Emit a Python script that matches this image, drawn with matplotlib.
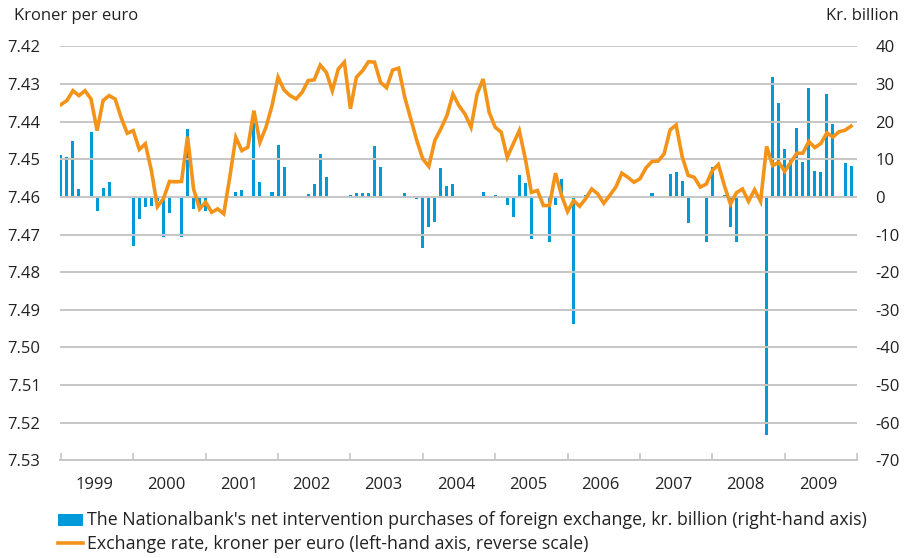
import matplotlib

matplotlib.use("Agg")
import matplotlib.pyplot as plt
from matplotlib.lines import Line2D
from matplotlib.patches import Rectangle

# monthly data, Jan 1999 - Dec 2009
years = ["1999", "2000", "2001", "2002", "2003", "2004", "2005", "2006", "2007", "2008", "2009"]

intervention = [
    11.0, 10.5, 14.8, 2.0, 0.0, 17.3, -3.8, 2.4, 3.9, 0.0, 0.0, 0.0,
    -13.1, -6.0, -2.7, -2.4, -1.0, -10.6, -4.2, 0.0, -10.6, 17.9, -3.3, -2.2,
    -3.8, 0.0, 0.0, 0.0, 0.0, 1.3, 1.7, 0.0, 20.8, 3.9, 0.0, 1.3,
    13.9, 7.9, 0.0, 0.0, 0.0, 0.7, 3.5, 11.5, 5.2, 0.0, 0.0, 0.0,
    0.6, 1.1, 1.1, 1.1, 13.5, 8.0, 0.0, 0.0, 0.0, 0.9, 0.0, -0.6,
    -13.5, -8.0, -6.6, 7.8, 3.0, 3.5, 0.0, 0.0, 0.0, 0.0, 1.2, 0.0,
    0.6, -0.4, -2.2, -5.3, 5.9, 3.8, -11.2, 0.0, 0.0, -11.9, -2.1, 4.7,
    0.0, -33.8, 0.0, 0.5, 0.0, 0.0, 0.0, 0.0, 0.0, 0.0, 0.0, 0.0,
    0.0, 0.0, 1.1, 0.0, 0.0, 6.2, 6.6, 4.2, -6.9, 0.0, 0.0, -12.1,
    8.0, 0.0, 0.6, -8.0, -11.9, 0.0, 0.0, 0.0, 0.0, -63.3, 31.9, 25.0,
    12.6, 10.4, 18.4, 9.3, 28.9, 6.9, 6.7, 27.3, 19.4, 0.0, 9.0, 8.2,
]

rate = [
    7.4355, 7.4344, 7.4318, 7.4331, 7.4318, 7.4340, 7.4424, 7.4344, 7.4331, 7.4340, 7.4390, 7.4431,
    7.4424, 7.4474, 7.4459, 7.4530, 7.4626, 7.4605, 7.4559, 7.4560, 7.4559, 7.4440, 7.4579, 7.4632,
    7.4614, 7.4641, 7.4632, 7.4645, 7.4548, 7.4442, 7.4477, 7.4468, 7.4371, 7.4455, 7.4415, 7.4358,
    7.4282, 7.4316, 7.4331, 7.4340, 7.4322, 7.4291, 7.4289, 7.4250, 7.4269, 7.4318, 7.4260, 7.4242,
    7.4366, 7.4282, 7.4265, 7.4241, 7.4242, 7.4296, 7.4310, 7.4263, 7.4258, 7.4335, 7.4393, 7.4450,
    7.4499, 7.4519, 7.4450, 7.4419, 7.4384, 7.4327, 7.4358, 7.4380, 7.4415, 7.4327, 7.4287, 7.4375,
    7.4415, 7.4428, 7.4495, 7.4459, 7.4424, 7.4499, 7.4588, 7.4583, 7.4623, 7.4623, 7.4537, 7.4596,
    7.4639, 7.4610, 7.4625, 7.4605, 7.4579, 7.4592, 7.4617, 7.4596, 7.4574, 7.4537, 7.4548, 7.4561,
    7.4552, 7.4523, 7.4506, 7.4505, 7.4486, 7.4422, 7.4409, 7.4493, 7.4543, 7.4548, 7.4574, 7.4566,
    7.4530, 7.4514, 7.4570, 7.4619, 7.4589, 7.4579, 7.4612, 7.4581, 7.4612, 7.4466, 7.4517, 7.4508,
    7.4532, 7.4508, 7.4484, 7.4484, 7.4453, 7.4469, 7.4458, 7.4430, 7.4441, 7.4427, 7.4423, 7.4412,
]

left_ticks = [7.42, 7.43, 7.44, 7.45, 7.46, 7.47, 7.48, 7.49, 7.50, 7.51, 7.52, 7.53]
right_ticks = [40, 30, 20, 10, 0, -10, -20, -30, -40, -50, -60, -70]

legend_labels = [
    "The Nationalbank's net intervention purchases of foreign exchange, kr. billion (right-hand axis)",
    "Exchange rate, kroner per euro (left-hand axis, reverse scale)",
]

BLUE = "#009ad8"
ORANGE = "#f39319"
GRID = "#c6c6c6"
TXT = "#222222"

plt.rcParams["font.family"] = ["Open Sans", "DejaVu Sans"]
plt.rcParams["axes.unicode_minus"] = False

W, H = 906, 558
fig = plt.figure(figsize=(W / 100, H / 100), dpi=100)
ax = fig.add_axes([0.0662, 0.175, 0.8798, 0.742])
ax2 = ax.twinx()

months = list(range(len(rate)))

# bars on the right-hand axis, drawn first
ax2.bar(months, intervention, width=0.5, color=BLUE, zorder=2)
ax2.set_ylim(-70, 40)
ax2.set_yticks(right_ticks)
ax2.set_yticklabels([str(t) for t in right_ticks])

ax.set_ylim(7.53, 7.42)
ax.set_yticks(left_ticks)
ax.set_yticklabels([f"{t:.2f}" for t in left_ticks])
for t in left_ticks[:-1]:
    ax.axhline(t, color=GRID, lw=1.4, zorder=0)

# line on top of the bars
ax.set_zorder(ax2.get_zorder() + 1)
ax.patch.set_visible(False)
ax.plot(months, rate, color=ORANGE, lw=2.6, solid_joinstyle="miter", zorder=3)

ax.set_xlim(-0.15, 131.7)
ax.set_xticks([12 * k for k in range(12)], minor=True)
ax.set_xticks([12 * k + 5.5 for k in range(11)])
ax.set_xticklabels(years)
ax.tick_params(axis="x", which="major", length=0, pad=12, labelsize=12, colors=TXT)
ax.tick_params(axis="x", which="minor", direction="in", length=5, width=1.2, color=GRID)
ax.tick_params(axis="y", length=0, pad=14, labelsize=12, colors=TXT)
ax2.tick_params(axis="y", length=0, pad=13, labelsize=12, colors=TXT)

for a in (ax, ax2):
    for s in ("top", "left", "right", "bottom"):
        a.spines[s].set_visible(False)
ax.spines["bottom"].set_visible(True)
ax.spines["bottom"].set_color(GRID)
ax.spines["bottom"].set_linewidth(1.4)

fig.text(14 / W, 1 - 16 / H, "Kroner per euro", fontsize=12, color=TXT, va="center")
fig.text(0.992, 1 - 16 / H, "Kr. billion", fontsize=12, color=TXT, va="center", ha="right")

# legend, laid out by hand
fig.patches.append(Rectangle((58 / W, 1 - 526 / H), 25 / W, 12.5 / H,
                             transform=fig.transFigure, facecolor=BLUE, edgecolor="none"))
fig.lines.append(Line2D([58 / W, 83 / W], [1 - 543 / H, 1 - 543 / H],
                        transform=fig.transFigure, color=ORANGE, lw=2.6))
fig.text(87 / W, 1 - 520 / H, legend_labels[0], fontsize=12.8, color=TXT, va="center")
fig.text(87 / W, 1 - 544 / H, legend_labels[1], fontsize=12.8, color=TXT, va="center")

fig.savefig("out.png", dpi=100)
